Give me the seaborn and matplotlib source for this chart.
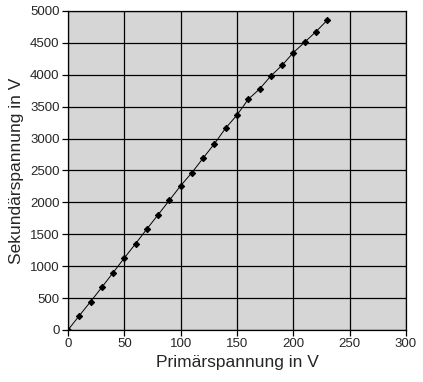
import matplotlib
matplotlib.use('Agg')
import matplotlib.pyplot as plt
import seaborn as sns
import pandas as pd

# Messwerte Transformator
primaer = [0, 10, 20, 30, 40, 50, 60, 70, 80, 90, 100, 110, 120, 130, 140, 150,
           160, 170, 180, 190, 200, 210, 220, 230]
sekundaer = [0, 224, 444, 669, 898, 1129, 1353, 1583, 1807, 2033, 2262, 2466,
             2696, 2920, 3166, 3370, 3616, 3777, 3981, 4149, 4347, 4510, 4675, 4854]
x_ticks = [0, 50, 100, 150, 200, 250, 300]
y_ticks = list(range(0, 5001, 500))

df = pd.DataFrame({'U1': primaer, 'U2': sekundaer})

sns.set_style('white')
plt.rcParams['font.family'] = ['Liberation Sans', 'DejaVu Sans']

fig = plt.figure(figsize=(4.23, 3.82), dpi=100)
ax = fig.add_axes([68/423, 1 - 330/382, 338/423, 319/382])
ax.set_facecolor('#d6d6d6')

sns.lineplot(data=df, x='U1', y='U2', ax=ax, color='black', linewidth=0.7,
             marker='D', markersize=3.2, markeredgecolor='black')

ax.set_xlim(0, 300)
ax.set_ylim(0, 5000)
ax.set_xticks(x_ticks)
ax.set_yticks(y_ticks)
ax.grid(True, color='black', linewidth=0.9)
ax.set_axisbelow(True)
for s in ax.spines.values():
    s.set_color('black')
    s.set_linewidth(0.9)
ax.tick_params(direction='out', length=4, width=0.9, color='black',
               labelsize=9.5, pad=2, left=True, bottom=True)
ax.set_xlabel('Primärspannung in V', fontsize=12.5, labelpad=3)
ax.set_ylabel('Sekundärspannung in V', fontsize=12.5, labelpad=4)

fig.savefig('out.png', dpi=100)
